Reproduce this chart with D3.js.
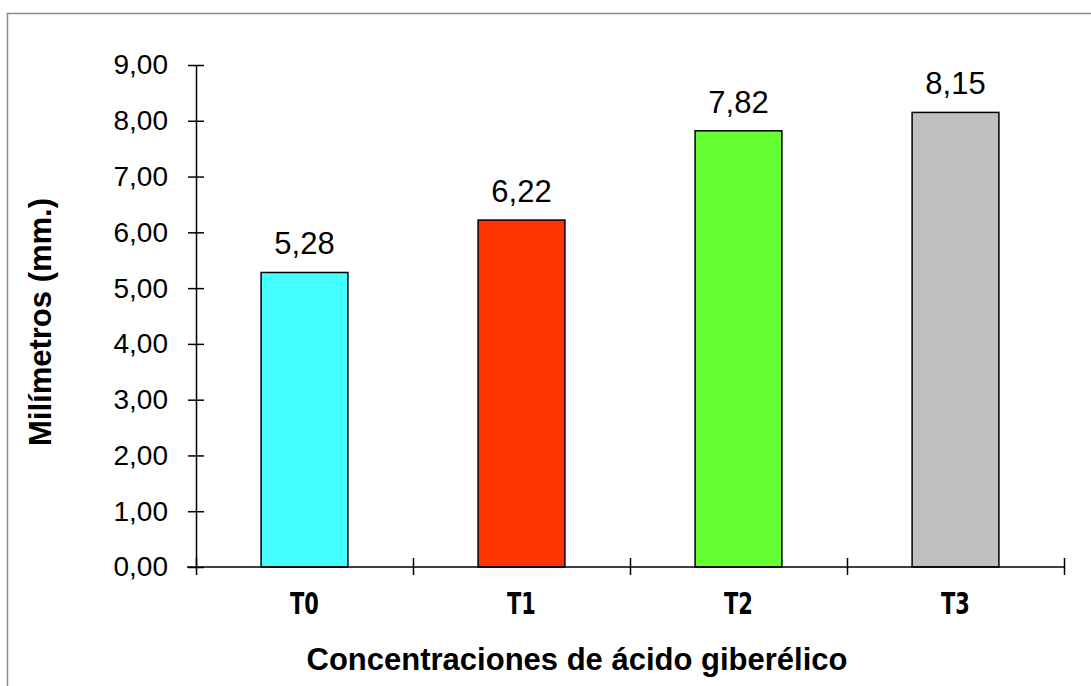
<!DOCTYPE html>
<html>
<head>
<meta charset="utf-8">
<script src="https://cdn.jsdelivr.net/npm/d3@7"></script>
<style>
  body { margin: 0; background: #fff; }
  svg text { font-family: "Liberation Sans", Arial, sans-serif; fill: #000; }
</style>
</head>
<body>
<div id="chart"></div>
<script>
// chart data
const categories = ["T0", "T1", "T2", "T3"];
const values = [5.28, 6.22, 7.82, 8.15];
const barColors = ["#44FFFF", "#FF3300", "#66FF33", "#C0C0C0"];
const yTicks = [0, 1, 2, 3, 4, 5, 6, 7, 8, 9];
const yTitle = "Milímetros (mm.)";
const xTitle = "Concentraciones de ácido giberélico";

function BarChart() {
  const W = 1091, H = 686;
  const plot = {left: 196, right: 1064, top: 65, bottom: 567};

  const locale = d3.formatLocale({decimal: ",", thousands: ".", grouping: [3], currency: ["", ""]});
  const fmt = locale.format(".2f");

  const svg = d3.select("#chart")
    .append("svg")
    .attr("width", W)
    .attr("height", H);

  // outer frame (runs off the right/bottom like the original)
  svg.append("rect")
    .attr("x", 7.5).attr("y", 13.5)
    .attr("width", W + 20).attr("height", H + 20)
    .attr("fill", "none")
    .attr("stroke", "#8c8c8c")
    .attr("stroke-width", 1.5);

  const x = d3.scaleBand()
    .domain(categories)
    .range([plot.left, plot.right])
    .padding(0);

  const y = d3.scaleLinear()
    .domain([0, 9])
    .range([plot.bottom, plot.top]);

  // bars
  const barW = x.bandwidth() * 0.4;
  svg.append("g")
    .selectAll("rect")
    .data(values)
    .enter()
    .append("rect")
    .attr("x", (d, i) => x(categories[i]) + (x.bandwidth() - barW) / 2)
    .attr("y", d => y(d))
    .attr("width", barW)
    .attr("height", d => y(0) - y(d))
    .attr("fill", (d, i) => barColors[i])
    .attr("stroke", "#000")
    .attr("stroke-width", 1.5);

  // value labels
  svg.append("g")
    .selectAll("text")
    .data(values)
    .enter()
    .append("text")
    .attr("x", (d, i) => x(categories[i]) + x.bandwidth() / 2)
    .attr("y", d => y(d) - 18)
    .attr("text-anchor", "middle")
    .style("font-size", "31px")
    .text(d => fmt(d));

  // y axis
  const yAxis = d3.axisLeft(y)
    .tickValues(yTicks)
    .tickFormat(fmt)
    .tickSize(8)
    .tickSizeOuter(0)
    .tickPadding(20);
  const gy = svg.append("g")
    .attr("transform", "translate(" + plot.left + ",0)")
    .call(yAxis);
  gy.selectAll(".tick line").attr("x1", 8).attr("stroke", "#000").attr("stroke-width", 1.5);
  gy.select(".domain").attr("stroke", "#000").attr("stroke-width", 1.5);
  gy.selectAll(".tick text")
    .style("font-size", "28px")
    .style("font-family", "'Liberation Sans', Arial, sans-serif");

  // x axis: category labels in the middle, ticks on the boundaries
  const xAxis = d3.axisBottom(x).tickSize(0).tickPadding(25);
  const gx = svg.append("g")
    .attr("transform", "translate(0," + plot.bottom + ")")
    .call(xAxis);
  gx.select(".domain").attr("stroke", "#000").attr("stroke-width", 1.5)
    .attr("d", "M" + (plot.left - 9) + ",0H" + plot.right);
  gx.selectAll(".tick text")
    .attr("transform", "scale(0.75,1)")
    .style("font-size", "31px")
    .style("font-weight", "bold")
    .style("font-family", "'Liberation Sans Narrow', 'DejaVu Sans Condensed', sans-serif");

  const bounds = d3.scaleLinear().domain([0, categories.length]).range([plot.left, plot.right]);
  const gb = svg.append("g")
    .attr("transform", "translate(0," + plot.bottom + ")")
    .call(d3.axisBottom(bounds).ticks(categories.length).tickFormat("").tickSize(8).tickSizeOuter(0));
  gb.select(".domain").remove();
  gb.selectAll(".tick line").attr("y1", -9).attr("stroke", "#000").attr("stroke-width", 1.5);

  // axis titles
  svg.append("text")
    .attr("transform", "translate(51," + ((plot.top + plot.bottom) / 2 + 6) + ") rotate(-90)")
    .attr("text-anchor", "middle")
    .style("font-size", "31px")
    .style("font-weight", "bold")
    .text(yTitle);

  svg.append("text")
    .attr("x", 577)
    .attr("y", 670)
    .attr("text-anchor", "middle")
    .style("font-size", "31px")
    .style("font-weight", "bold")
    .text(xTitle);
}

window.onload = function() {
  BarChart();
};
</script>
</body>
</html>
